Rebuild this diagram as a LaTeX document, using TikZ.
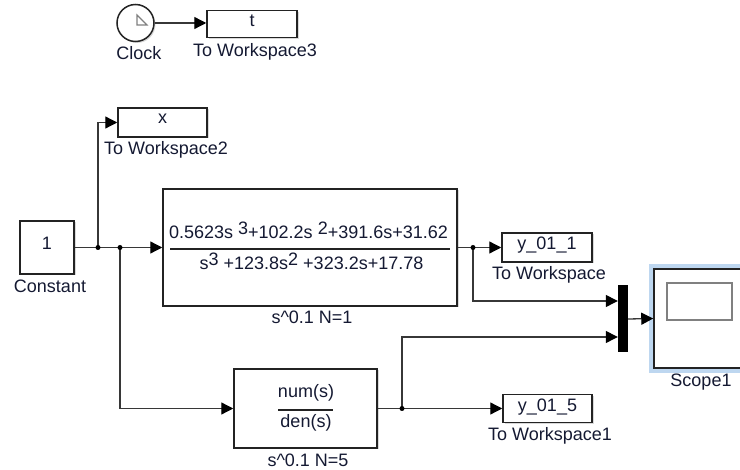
\documentclass[tikz,border=0pt]{standalone}
\usepackage{fontspec}
\setmainfont{Liberation Sans}
\usetikzlibrary{arrows.meta,shadows}
\definecolor{wire}{RGB}{55,55,55}
\definecolor{edge}{RGB}{35,35,35}
\definecolor{ink}{RGB}{20,25,50}
\definecolor{hilite}{RGB}{190,215,240}

\begin{document}
\begin{tikzpicture}[x=1pt,y=-1pt,
        blk/.style={draw=edge, fill=white, line width=1.5pt, inner sep=0pt,
            drop shadow={shadow xshift=1.5pt,shadow yshift=-1.5pt,opacity=.3}},
        txt/.style={inner sep=0pt, text=ink, font=\fontsize{18}{20}\selectfont,
            text height=13pt, text depth=4pt},
        sig/.style={draw=wire, line width=1.3pt, -{Triangle[length=12pt,width=12pt,color=black]}},
        wir/.style={draw=wire, line width=1.3pt},
        dot/.style={circle, fill=black, inner sep=0pt, minimum size=5pt}]
            \useasboundingbox (0,0) rectangle (740,470);

            % clock
            \node[blk, circle, minimum size=37pt] (clk) at (135.5,23) {};
            \draw[gray, line width=1.2pt] ([shift={(1.5,-8)}]clk.center) -- ([shift={(1.5,2)}]clk.center)
                -- ([shift={(11.5,2)}]clk.center) -- cycle;
            \node[txt] (clkl) at (139,55) {Clock};
            \node[blk, minimum width=90pt, minimum height=27pt] (ws3) at (252,24) {};
            \node[txt] (ws3v) at (252,22) {t};
            \node[txt] (ws3l) at (255,52) {To Workspace3};

            % source
            \node[blk, minimum width=54pt, minimum height=53pt] (const) at (47,247.5) {};
            \node[txt] (constv) at (47,245) {1};
            \node[txt] (constl) at (50,288) {Constant};
            \node[blk, minimum width=89pt, minimum height=29pt] (ws2) at (162.5,122.5) {};
            \node[txt] (ws2v) at (162.5,119.5) {x};
            \node[txt] (ws2l) at (166,150.5) {To Workspace2};

            % N=1
            \node[blk, minimum width=294pt, minimum height=117pt] (tf1) at (310,247.5) {};
            \node[txt] (tf1n) at (308.5,233.8) {0.5623s \raisebox{4pt}{3}+102.2s \raisebox{4pt}{2}+391.6s+31.62};
            \node[txt] (tf1d) at (311.5,264.8) {s\raisebox{4pt}{3} +123.8s\raisebox{4pt}{2} +323.2s+17.78};
            \draw[edge, line width=1.2pt] ([shift={(8,1.5)}]tf1.west) -- ([shift={(-8,1.5)}]tf1.east);
            \node[txt] (tf1l) at (312,319.5) {s\textasciicircum 0.1 N=1};
            \node[blk, minimum width=90pt, minimum height=29pt] (y1) at (547,247.5) {};
            \node[txt] (y1v) at (547,245) {y\_01\_1};
            \node[txt] (y1l) at (549,275.5) {To Workspace};

            % N=5
            \node[blk, minimum width=143pt, minimum height=79pt] (tf2) at (305.5,408.5) {};
            \node[txt] (tf2n) at (306,393.5) {num(s)};
            \node[txt] (tf2d) at (306,423.5) {den(s)};
            \draw[edge, line width=1.2pt] ([shift={(-27.5,1.5)}]tf2.center) -- ([shift={(27.5,1.5)}]tf2.center);
            \node[txt] (tf2l) at (308,462) {s\textasciicircum 0.1 N=5};
            \node[blk, minimum width=89pt, minimum height=28pt] (y5) at (547.5,408.5) {};
            \node[txt] (y5v) at (547.5,407) {y\_01\_5};
            \node[txt] (y5l) at (550,436) {To Workspace1};

            % mux and scope
            \node[fill=black, minimum width=10pt, minimum height=67pt, inner sep=0pt] (mux) at (623,319) {};
            \node[draw=edge, fill=white, line width=1.5pt, inner sep=0pt, minimum width=92pt, minimum height=99pt,
                preaction={draw=hilite, line width=10pt}] (scope) at (700,318.5) {};
            \node[draw=gray, line width=1.2pt, minimum width=65pt, minimum height=37pt] (scopescr) at (699.5,301.5) {};
            \node[txt] (scopel) at (701,382) {Scope1};

            \coordinate (j1) at (98,247.5);
            \coordinate (j2) at (120,247.5);
            \coordinate (j3) at (473,247.5);
            \coordinate (j4) at (402,408.5);
            \coordinate (m1) at ([shift={(0,-18)}]mux.west);
            \coordinate (m2) at ([shift={(0,18)}]mux.west);

            \draw[sig] (clk.east) -- (clk.east -| ws3.west);
            \draw[wir] (const.east) -- (j1) -- (j2);
            \draw[sig] (j2) -- (tf1.west);
            \draw[sig] (j1) |- (ws2.west);
            \draw[sig] (j2) |- (tf2.west);
            \draw[wir] (tf1.east) -- (j3);
            \draw[sig] (j3) -- (y1.west);
            \draw[sig] (j3) |- (m1);
            \draw[wir] (tf2.east) -- (j4);
            \draw[sig] (j4) -- (y5.west);
            \draw[sig] (j4) |- (m2);
            \draw[sig] (mux.east) -- (scope.west);
            \foreach \j in {j1,j2,j3,j4}{
                \node[dot] at (\j) {};
            }
        \end{tikzpicture}
\end{document}
